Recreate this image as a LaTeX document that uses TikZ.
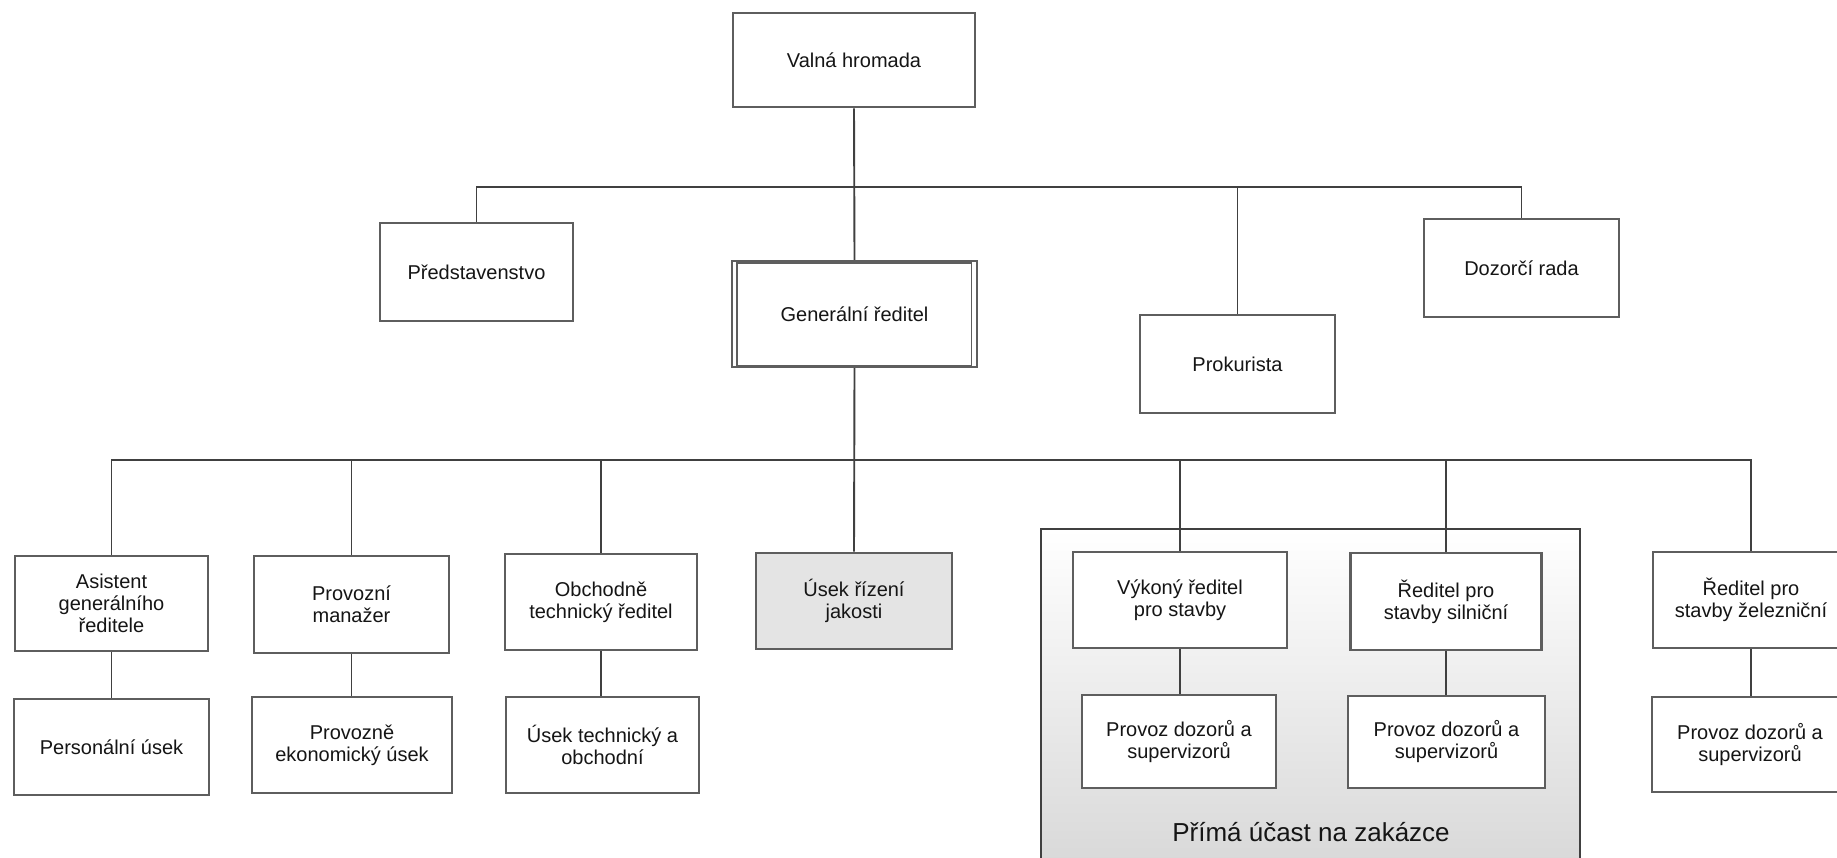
\documentclass[tikz,border=0pt]{standalone}
\usepackage{fontspec}
\setmainfont{Liberation Sans}
\definecolor{bord}{HTML}{5E5E5E}
\definecolor{conn}{HTML}{404040}
\definecolor{txt}{HTML}{151515}
\definecolor{jak}{HTML}{E4E4E4}
\tikzset{
  orgbox/.style={draw=bord, line width=2.7pt, fill=white, inner sep=2pt,
    align=center, text=txt, font=\fontsize{20}{22}\selectfont},
  link/.style={draw=conn, line width=1.9pt},
  zonetext/.style={text=txt, font=\fontsize{26}{30}\selectfont, inner sep=0pt}
}
\begin{document}
\begin{tikzpicture}[x=1pt,y=-1pt]
\useasboundingbox (0,0) rectangle (1837,857);
\clip (0,0) rectangle (1837,857);
\fill[white] (0,0) rectangle (1837,857);
% zone of direct participation
\shadedraw[top color=white, middle color=white!93!gray, bottom color=gray!32,
  draw=conn, line width=1.6pt] (1041,529) rectangle (1580,885);
\node[zonetext] (zonelabel) at (1311,832) {Přímá účast na zakázce};
% top level
\node[orgbox, minimum width=242pt, minimum height=94pt] (valna) at (854,60) {Valná hromada};
\node[orgbox, minimum width=193pt, minimum height=98pt] (pred) at (476.5,272) {Představenstvo};
\node[orgbox, minimum width=245pt, minimum height=106pt, line width=2.2pt] (gen) at (854.5,314) {Generální ředitel};
\draw[bord, line width=1.2pt] ([shift={(6,3)}]gen.north west) rectangle ([shift={(-7,-3)}]gen.south east);
\node[orgbox, minimum width=195pt, minimum height=98pt] (prok) at (1237.5,364) {Prokurista};
\node[orgbox, minimum width=195pt, minimum height=98pt] (dozor) at (1521.5,268) {Dozorčí rada};
% second level
\node[orgbox, minimum width=193pt, minimum height=95pt] (asist) at (111.5,603.5) {Asistent\\generálního\\ředitele};
\node[orgbox, minimum width=195pt, minimum height=96pt] (pers) at (111.5,747) {Personální úsek};
\node[orgbox, minimum width=195pt, minimum height=97pt] (provm) at (351.5,604.5) {Provozní\\manažer};
\node[orgbox, minimum width=200pt, minimum height=96pt] (provek) at (352,745) {Provozně\\ekonomický úsek};
\node[orgbox, minimum width=192pt, minimum height=96pt] (obch) at (601,602) {Obchodně\\technický ředitel};
\node[orgbox, minimum width=193pt, minimum height=96pt] (usektech) at (602.5,745) {Úsek technický a\\obchodní};
\node[orgbox, minimum width=196pt, minimum height=96pt, fill=jak] (jakost) at (854,601) {Úsek řízení\\jakosti};
\node[orgbox, minimum width=214pt, minimum height=96pt] (vykon) at (1180,600) {Výkoný ředitel\\pro stavby};
\node[orgbox, minimum width=194pt, minimum height=93pt] (prov1) at (1179,741.5) {Provoz dozorů a\\supervizorů};
\node[orgbox, minimum width=191pt, minimum height=97pt] (silnic) at (1446,601.5) {Ředitel pro\\stavby silniční};
\node[orgbox, minimum width=197pt, minimum height=92pt] (prov2) at (1446.5,742) {Provoz dozorů a\\supervizorů};
\node[orgbox, minimum width=196pt, minimum height=96pt] (zelez) at (1751,600) {Ředitel pro\\stavby železniční};
\node[orgbox, minimum width=196pt, minimum height=95pt] (prov3) at (1750,744.5) {Provoz dozorů a\\supervizorů};
% connectors
\coordinate (bus1) at (854,187);
\coordinate (bus2) at (854,460);
\draw[link] (valna.south) -- (gen.north);
\draw[link] (pred.north) |- (bus1) -| (dozor.north);
\draw[link] (prok.north) |- (bus1);
\draw[link] (gen.south) -- (jakost.north);
\draw[link] (asist.north) |- (bus2) -| (zelez.north);
\draw[link] (provm.north) |- (bus2);
\draw[link] (obch.north) |- (bus2);
\draw[link] (vykon.north) |- (bus2);
\draw[link] (silnic.north) |- (bus2);
\draw[link] (asist.south) -- (asist.south |- pers.north);
\draw[link] (provm.south) -- (provm.south |- provek.north);
\draw[link] (obch.south) -- (obch.south |- usektech.north);
\draw[link] (vykon.south) -- (vykon.south |- prov1.north);
\draw[link] (silnic.south) -- (silnic.south |- prov2.north);
\draw[link] (zelez.south) -- (zelez.south |- prov3.north);
\end{tikzpicture}
\end{document}
